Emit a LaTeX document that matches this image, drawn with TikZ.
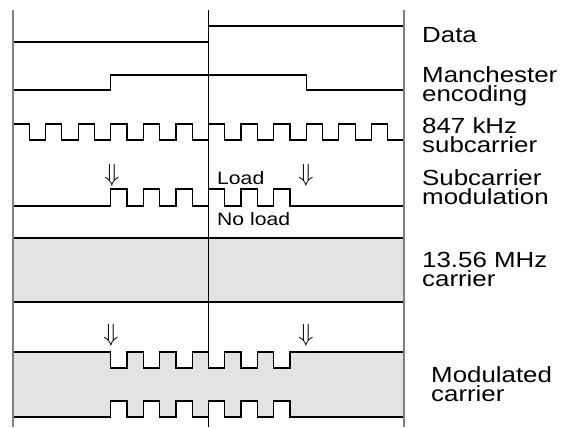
\documentclass[tikz,border=0pt]{standalone}
\usepackage{fontspec}
\setmainfont{Liberation Sans}
\newfontfamily\wavefont{Liberation Sans}[FakeStretch=1.18]
\usepackage{tikz}
\definecolor{carriergray}{RGB}{227,227,227}
\definecolor{guidegray}{RGB}{128,128,128}

\begin{document}
\begin{tikzpicture}[x=1bp, y=-1bp, line join=miter,
  signal/.style={black, line width=1.2bp},
  guide/.style={guidegray, line width=1.3bp},
  siglabel/.style={anchor=base west, inner sep=0pt, align=left, font=\wavefont\fontsize{22}{19}\selectfont},
  loadlabel/.style={anchor=base west, inner sep=0pt, font=\wavefont\fontsize{18}{18}\selectfont},
  loadarrow/.style={inner sep=0pt, font=\fontsize{25}{25}\selectfont}]
  \useasboundingbox (0,0) rectangle (566,427);
  \pgfmathsetmacro\hp{391/24}
  % carrier
  \draw[signal, fill=carriergray] (13,238) rectangle (404,302);
  \draw[black, line width=0.9bp] (208.5,10) -- (208.5,427);
  % data and manchester
  \draw[signal] (13,42) -- (208.5,42) -- (208.5,26) -- (404,26) -- (404,42);
  \draw[signal] (13,90) -- (110.75,90) -- (110.75,75) -- (306.25,75) -- (306.25,90) -- (404,90);
  % subcarrier
  \draw[signal] (13,124) \foreach \k in {1,...,12} { -- ++(\hp,0) -- ++(0,16) -- ++(\hp,0) -- ++(0,-16) };
  % subcarrier modulation
  \draw[signal] (13,206) -- (110.75,206)
    \foreach \k in {1,...,6} { -- ++(0,-17) -- ++(\hp,0) -- ++(0,17) -- ++(\hp,0) } -- (404,206);
  % modulated carrier
  \draw[signal, fill=carriergray] (13,352) -- (110.75,352)
    \foreach \k in {1,...,6} { -- ++(0,16) -- ++(\hp,0) -- ++(0,-16) -- ++(\hp,0) }
    -- (404,352) -- (404,417) -- (306.25,417)
    \foreach \k in {1,...,6} { -- ++(-\hp,0) -- ++(0,-16) -- ++(-\hp,0) -- ++(0,16) }
    -- (13,417) -- cycle;
  \draw[guide] (13,10) -- (13,427);
  \draw[guide] (404,10) -- (404,427);
  % arrows
  \node[loadarrow] (a1) at (112,175) {$\Downarrow$};
  \node[loadarrow] (a2) at (306,175) {$\Downarrow$};
  \node[loadarrow] (a3) at (111,335) {$\Downarrow$};
  \node[loadarrow] (a4) at (306,335) {$\Downarrow$};
  \node[loadlabel] (load) at (217,184) {Load};
  \node[loadlabel] (noload) at (217,225) {No load};
  % labels
  \node[siglabel] (data) at (422,42) {Data};
  \node[siglabel] (manch) at (422,101) {Manchester\\encoding};
  \node[siglabel] (sub) at (422,152) {847 kHz\\subcarrier};
  \node[siglabel] (mod) at (422,204) {Subcarrier\\modulation};
  \node[siglabel] (carr) at (422,286) {13.56 MHz\\carrier};
  \node[siglabel] (modc) at (431,401) {Modulated\\carrier};
\end{tikzpicture}
\end{document}
